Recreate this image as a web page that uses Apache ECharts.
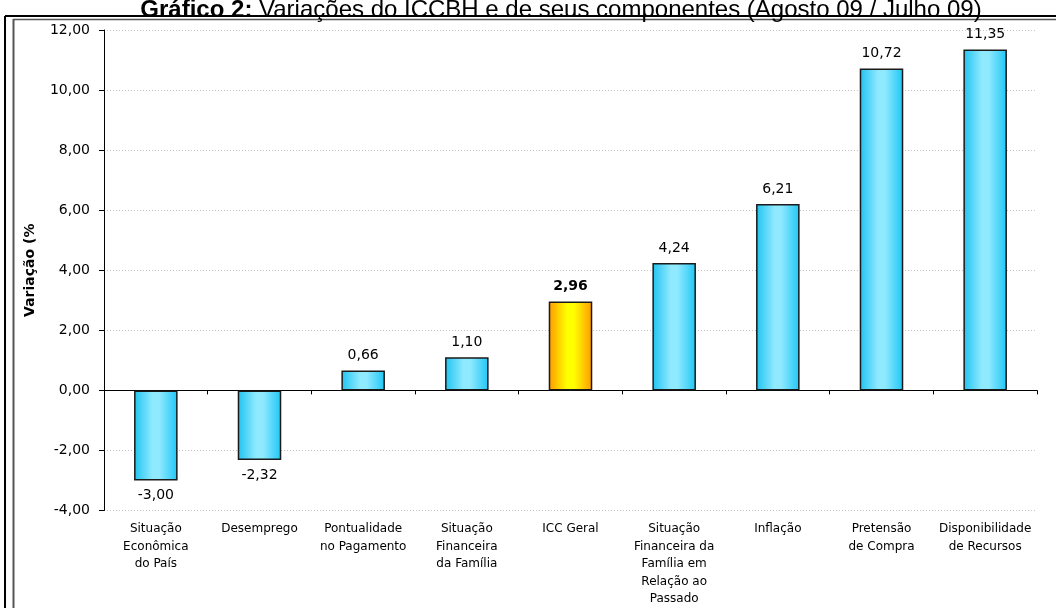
<!DOCTYPE html>
<html>
<head>
<meta charset="utf-8">
<script src="https://cdn.jsdelivr.net/npm/echarts@6/dist/echarts.min.js"></script>
<style>
html,body{margin:0;padding:0;background:#fff;}
#chart{width:1056px;height:608px;}
</style>
</head>
<body>
<div id="chart"></div>
<script>
var categories = ['Situação\nEconômica\ndo País','Desemprego','Pontualidade\nno Pagamento','Situação\nFinanceira\nda Família','ICC Geral','Situação\nFinanceira da\nFamília em\nRelação ao\nPassado','Inflação','Pretensão\nde Compra','Disponibilidade\nde Recursos'];
var values = [-3.00, -2.32, 0.66, 1.10, 2.96, 4.24, 6.21, 10.72, 11.35];
var highlightIndex = 4;
var yTicks = {min: -4, max: 12, interval: 2};
var titleBold = 'Gráfico 2:';
var titleRest = ' Variações do ICCBH e de seus componentes (Agosto 09 / Julho 09)';
var yName = 'Variação (%';

function fmt(v){ return v.toFixed(2).replace('.', ','); }

var blueGrad = new echarts.graphic.LinearGradient(0,0,1,0,[
  {offset:0,color:'#1ec3f0'},{offset:0.42,color:'#8fe9ff'},{offset:0.58,color:'#8fe9ff'},{offset:1,color:'#1ec6f6'}]);
var orangeGrad = new echarts.graphic.LinearGradient(0,0,1,0,[
  {offset:0,color:'#ff9a00'},{offset:0.42,color:'#ffff00'},{offset:0.58,color:'#ffff00'},{offset:1,color:'#ff9a00'}]);

var data = values.map(function(v,i){
  var item = {value: v, itemStyle:{color: i===highlightIndex ? orangeGrad : blueGrad}};
  item.label = {position: v < 0 ? 'bottom' : 'top', fontWeight: i===highlightIndex ? 'bold' : 'normal'};
  return item;
});

var chart = echarts.init(document.getElementById('chart'), null, {renderer:'canvas'});
chart.setOption({
  animation:false,
  backgroundColor:'#fff',
  grid:{left:104, right:19, top:30, bottom:97},
  xAxis:[{
    type:'category', data:categories, position:'bottom',
    axisLine:{show:true, onZero:true, lineStyle:{color:'#000', width:1}},
    axisTick:{show:true, interval:0, length:4, lineStyle:{color:'#000'}},
    axisLabel:{show:false},
    splitLine:{show:false}
  },{
    type:'category', data:categories, position:'bottom',
    axisLine:{show:false, onZero:false},
    axisTick:{show:false},
    axisLabel:{show:true, interval:0, margin:10, color:'#000', fontFamily:'DejaVu Sans', fontSize:12, lineHeight:17.5},
    splitLine:{show:false}
  }],
  yAxis:{
    type:'value', min:yTicks.min, max:yTicks.max, interval:yTicks.interval,
    name:yName, nameLocation:'middle', nameGap:67, nameRotate:90,
    nameTextStyle:{fontFamily:'DejaVu Sans', fontWeight:'bold', fontSize:14, color:'#000'},
    axisLine:{show:true, lineStyle:{color:'#000', width:1}},
    axisTick:{show:true, length:5, lineStyle:{color:'#000'}},
    axisLabel:{margin:14, color:'#000', fontFamily:'DejaVu Sans', fontSize:14, formatter:function(v){return fmt(v);}},
    splitLine:{show:true, lineStyle:{color:'#c4c4c4', type:[1,2], width:1}}
  },
  series:[{
    type:'bar', xAxisIndex:0, data:data, barWidth:'42%',
    itemStyle:{borderColor:'#1a1a1a', borderWidth:1.5},
    label:{show:true, distance:8, color:'#000', fontFamily:'DejaVu Sans', fontSize:14,
      formatter:function(p){return fmt(p.value);}}
  }],
  graphic:[
    {type:'line', shape:{x1:5, y1:16, x2:1056, y2:16}, style:{stroke:'#000', lineWidth:2}, z:10},
    {type:'line', shape:{x1:5, y1:16, x2:5, y2:608}, style:{stroke:'#000', lineWidth:2}, z:10},
    {type:'line', shape:{x1:13, y1:19.5, x2:1056, y2:19.5}, style:{stroke:'#555', lineWidth:1.5}, z:10},
    {type:'line', shape:{x1:13.5, y1:19, x2:13.5, y2:608}, style:{stroke:'#555', lineWidth:2}, z:10},
    {type:'text', x:561, y:22, z:11, style:{
      text:'{b|'+titleBold+'}{n|'+titleRest+'}', align:'center', verticalAlign:'bottom',
      rich:{b:{fontFamily:'Liberation Sans', fontWeight:'bold', fontSize:24, fill:'#000'},
            n:{fontFamily:'Liberation Sans', fontSize:24, fill:'#000'}}
    }}
  ]
});
</script>
</body>
</html>
